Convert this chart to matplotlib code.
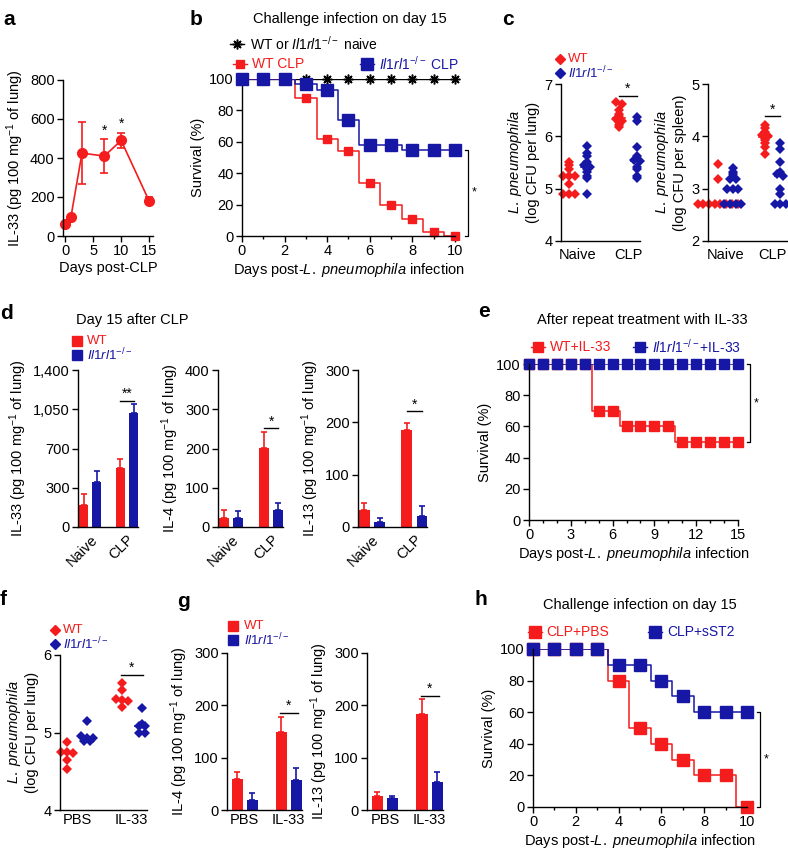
import numpy as np
import matplotlib
matplotlib.use("Agg")
from matplotlib import pyplot as plt
from matplotlib.lines import Line2D

plt.rcParams['font.family'] = ['Liberation Sans', 'DejaVu Sans']
plt.rcParams['mathtext.fontset'] = 'custom'
plt.rcParams['mathtext.rm'] = 'Liberation Sans'
plt.rcParams['mathtext.it'] = 'Liberation Sans:italic'
plt.rcParams['mathtext.bf'] = 'Liberation Sans:bold'

RED = '#f41c1c'
BLUE = '#1717a6'
KO = r'$\mathit{Il1rl1}^{-/-}$'
DAYS_LP = r'Days post-$\mathit{L.\ pneumophila}$ infection'

# ---- data ----
# a: IL-33 after CLP
a_days = [0, 1, 3, 7, 10, 15]
a_il33 = [60, 95, 425, 410, 490, 180]
a_err = [0, 0, 158, 85, 38, 18]
a_sig = [7, 10]

# b: survival, challenge on day 15
b_days = list(range(11))
b_wt_clp = [100, 100, 100, 88, 62, 54, 34, 20, 11, 2.5, 0]
b_ko_clp = [100, 100, 100, 97, 93, 74, 58, 58, 55, 55, 55]
b_naive = [100] * 11

# c: bacterial load, lung and spleen
c_groups = ['Naive', 'CLP']
c_lung_wt = [[5.5, 5.45, 5.38, 5.25, 5.25, 5.25, 5.08, 4.9, 4.9, 4.9],
             [6.65, 6.62, 6.5, 6.42, 6.38, 6.33, 6.3, 6.28, 6.22, 6.18]]
c_lung_ko = [[5.82, 5.68, 5.62, 5.5, 5.45, 5.42, 5.38, 5.32, 5.25, 5.2, 4.9],
             [6.36, 6.3, 5.8, 5.62, 5.55, 5.52, 5.42, 5.38, 5.25, 5.2]]
c_spl_wt = [[3.48, 3.18, 2.7, 2.7, 2.7, 2.7, 2.7, 2.7, 2.7, 2.7],
            [4.22, 4.15, 4.08, 4.02, 4.0, 3.97, 3.93, 3.88, 3.8, 3.66]]
c_spl_ko = [[3.4, 3.32, 3.28, 3.18, 3.18, 3.0, 3.0, 3.0, 2.7, 2.7, 2.7, 2.7],
            [3.88, 3.75, 3.5, 3.32, 3.28, 3.25, 3.0, 2.9, 2.7, 2.7, 2.7]]

# d: cytokines day 15 after CLP
d_groups = ['Naive', 'CLP']
d_il33_wt, d_il33_wt_err = [200, 530], [90, 73]
d_il33_ko, d_il33_ko_err = [400, 1013], [95, 83]
d_il4_wt, d_il4_wt_err = [24, 202], [19, 41]
d_il4_ko, d_il4_ko_err = [23, 44], [17, 17]
d_il13_wt, d_il13_wt_err = [33, 186], [13, 13]
d_il13_ko, d_il13_ko_err = [10, 21], [7, 19]

# e: survival after IL-33 treatment
e_days = list(range(16))
e_wt = [100, 100, 100, 100, 100, 70, 70, 60, 60, 60, 60, 50, 50, 50, 50, 50]
e_ko = [100] * 16

# f: bacterial load after PBS / IL-33
f_groups = ['PBS', 'IL-33']
f_wt = [[4.88, 4.75, 4.75, 4.74, 4.64, 4.53],
        [5.64, 5.55, 5.43, 5.42, 5.41, 5.33]]
f_ko = [[5.15, 4.95, 4.93, 4.93, 4.89, 4.89],
        [5.32, 5.11, 5.08, 5.08, 4.99, 4.99]]

# g: IL-4 / IL-13 after PBS / IL-33
g_groups = ['PBS', 'IL-33']
g_il4_wt, g_il4_wt_err = [60, 150], [13, 28]
g_il4_ko, g_il4_ko_err = [20, 57], [13, 24]
g_il13_wt, g_il13_wt_err = [26, 183], [9, 29]
g_il13_ko, g_il13_ko_err = [22, 53], [5, 20]

# h: survival CLP+PBS vs CLP+sST2
h_days = list(range(11))
h_pbs = [100, 100, 100, 100, 80, 50, 40, 30, 20, 20, 0]
h_sst2 = [100, 100, 100, 100, 90, 90, 80, 70, 60, 60, 60]

W, H = 788, 850
fig = plt.figure(figsize=(W / 100, H / 100), dpi=100)


def add_ax(l, t, r, b):
    ax = fig.add_axes([l / W, 1 - b / H, (r - l) / W, (b - t) / H])
    for s in ['top', 'right']:
        ax.spines[s].set_visible(False)
    for s in ['left', 'bottom']:
        ax.spines[s].set_linewidth(1)
    ax.tick_params(direction='out', length=4, width=1, labelsize=10.5, pad=2)
    ax.tick_params(which='minor', direction='out', length=2.5, width=1)
    return ax


def ftext(x, y, s, color='k', size=10, **kw):
    fig.text(x / W, 1 - y / H, s, color=color, fontsize=size, **kw)


def fmarker(x, y, marker, color, ms, half=7, mew=1):
    fig.add_artist(Line2D([(x - half) / W, x / W, (x + half) / W], [1 - y / H] * 3,
                          color=color, marker=marker, markevery=[1], ms=ms, lw=1,
                          mew=mew, transform=fig.transFigure))


def hbracket(ax, x1, x2, y, label='*'):
    ax.plot([x1, x2], [y, y], color='k', lw=1, clip_on=False)
    ax.text((x1 + x2) / 2, y, label, ha='center', va='bottom', fontsize=10)


def vbracket(ax, x, y1, y2, dx, label='*'):
    ax.plot([x - dx, x, x, x - dx], [y1, y1, y2, y2], color='k', lw=0.9, clip_on=False)
    ax.text(x + dx * 1.3, (y1 + y2) / 2, label, ha='left', va='center', fontsize=9)


def swarm(vals, center, step, tol):
    vals = np.sort(np.asarray(vals, dtype=float))[::-1]
    xs = np.empty(len(vals))
    i = 0
    while i < len(vals):
        j = i
        while j + 1 < len(vals) and vals[i] - vals[j + 1] < tol:
            j += 1
        n = j - i + 1
        xs[i:j + 1] = center + (np.arange(n) - (n - 1) / 2) * step
        i = j + 1
    return xs, vals


def scatter_panel(ax, wt, ko, off, step, tol):
    for k in range(len(wt)):
        for vals, col, sgn in [(wt[k], RED, -1), (ko[k], BLUE, 1)]:
            c = k + sgn * off
            xs, ys = swarm(vals, c, step, tol)
            ax.plot(xs, ys, 'D', color=col, ms=4.6, mew=0, clip_on=False)
            med = np.median(vals)
            ax.plot([c - 0.12, c + 0.12], [med, med], color=col, lw=1.2)


def bar_panel(ax, wt, wt_err, ko, ko_err, off, width):
    x = np.arange(len(wt))
    ax.bar(x - off, wt, width, color=RED, yerr=[np.zeros(len(wt)), wt_err],
           error_kw=dict(ecolor=RED, capsize=2.5, elinewidth=1.2, capthick=1.2))
    ax.bar(x + off, ko, width, color=BLUE, yerr=[np.zeros(len(ko)), ko_err],
           error_kw=dict(ecolor=BLUE, capsize=2.5, elinewidth=1.2, capthick=1.2))


def panel_letter(x, y, s):
    ftext(x, y, s, size=15, weight='bold', va='top')


def small_legend(x, y1, y2, marker, ms, tx):
    fmarker(x, y1, marker, RED, ms, half=0)
    ftext(tx, y1, 'WT', color=RED, size=9.5, va='center')
    fmarker(x, y2, marker, BLUE, ms, half=0)
    ftext(tx, y2, KO, color=BLUE, size=9.5, va='center')


# ---- a ----
ax = add_ax(63, 80, 153, 236)
ax.errorbar(a_days, a_il33, yerr=a_err, color=RED, marker='o', ms=7, lw=1.2,
            capsize=3, capthick=1.2, clip_on=False)
for d in a_sig:
    i = a_days.index(d)
    ax.text(d, a_il33[i] + a_err[i] + 10, '*', ha='center', va='bottom', fontsize=10)
ax.set_xlim(-0.4, 15.7)
ax.set_ylim(0, 800)
ax.set_xticks([0, 5, 10, 15])
ax.set_yticks([0, 200, 400, 600, 800])
ax.set_xlabel('Days post-CLP', fontsize=10.5, labelpad=2)
ax.set_ylabel(r'IL-33 (pg 100 mg$^{-1}$ of lung)', fontsize=10.5, labelpad=3)
panel_letter(3, 10, 'a')

# ---- b ----
ax = add_ax(242, 79, 455, 236)
ax.step(b_days, b_naive, where='mid', color='k', lw=1)
ax.plot(b_days, b_naive, ls='none', marker=(8, 2, 0), color='k', ms=7, mew=1.1, clip_on=False)
ax.step(b_days, b_wt_clp, where='mid', color=RED, lw=1.1)
ax.plot(b_days, b_wt_clp, 's', color=RED, ms=6, clip_on=False)
ax.step(b_days, b_ko_clp, where='mid', color=BLUE, lw=1.1)
ax.plot(b_days, b_ko_clp, 's', color=BLUE, ms=8.5, clip_on=False, zorder=3)
ax.set_xlim(0, 10)
ax.set_ylim(0, 100)
ax.set_xticks(range(0, 11, 2))
ax.set_xticks(range(0, 11), minor=True)
ax.set_yticks(range(0, 101, 20))
ax.set_xlabel(DAYS_LP, fontsize=10.5, labelpad=2)
ax.set_ylabel('Survival (%)', fontsize=10.5, labelpad=3)
vbracket(ax, 10.6, 55, 0, 0.15)
panel_letter(190, 10, 'b')
ftext(350, 19, 'Challenge infection on day 15', size=10.5, ha='center', va='center')
fmarker(237, 44, (8, 2, 0), 'k', 7, mew=1.1)
ftext(250, 44, 'WT or ' + KO + ' naive', size=10, va='center')
fmarker(240, 64, 's', RED, 6)
ftext(252, 64, 'WT CLP', color=RED, size=10, va='center')
fmarker(367, 64, 's', BLUE, 8.5)
ftext(379, 64, KO + ' CLP', color=BLUE, size=10, va='center')

# ---- c ----
ax = add_ax(561, 84, 640, 241)
scatter_panel(ax, c_lung_wt, c_lung_ko, 0.18, 0.12, 0.04)
hbracket(ax, 1 - 0.18, 1 + 0.18, 6.78)
ax.set_xlim(-0.34, 1.24)
ax.set_ylim(4, 7)
ax.set_yticks([4, 5, 6, 7])
ax.set_xticks([0, 1])
ax.set_xticklabels(c_groups)
ax.tick_params(axis='x', length=0, pad=5)
ax.set_ylabel(r'$\mathit{L.\ pneumophila}$' + '\n(log CFU per lung)', fontsize=10.5, labelpad=3)
ax = add_ax(708, 84, 787, 241)
scatter_panel(ax, c_spl_wt, c_spl_ko, 0.16, 0.12, 0.04)
hbracket(ax, 1 - 0.16, 1 + 0.16, 4.38)
ax.set_xlim(-0.36, 1.3)
ax.set_ylim(2, 5)
ax.set_yticks([2, 3, 4, 5])
ax.set_xticks([0, 1])
ax.set_xticklabels(c_groups)
ax.tick_params(axis='x', length=0, pad=5)
ax.set_ylabel(r'$\mathit{L.\ pneumophila}$' + '\n(log CFU per spleen)', fontsize=10.5, labelpad=3)
panel_letter(502, 10, 'c')
small_legend(560, 59, 73, 'D', 4.6, 568)

# ---- d ----
d_specs = [
    ((78, 370, 138, 527), d_il33_wt, d_il33_wt_err, d_il33_ko, d_il33_ko_err,
     [0, 350, 700, 1050, 1400], ['0', '300', '700', '1,050', '1,400'], 1126, '**',
     r'IL-33 (pg 100 mg$^{-1}$ of lung)'),
    ((218, 370, 283, 527), d_il4_wt, d_il4_wt_err, d_il4_ko, d_il4_ko_err,
     [0, 100, 200, 300, 400], None, 251, '*', r'IL-4 (pg 100 mg$^{-1}$ of lung)'),
    ((358, 370, 427, 527), d_il13_wt, d_il13_wt_err, d_il13_ko, d_il13_ko_err,
     [0, 100, 200, 300], None, 221, '*', r'IL-13 (pg 100 mg$^{-1}$ of lung)'),
]
for box, wt, wte, ko, koe, yt, ytl, sig_y, sig, ylab in d_specs:
    ax = add_ax(*box)
    bar_panel(ax, wt, wte, ko, koe, 0.18, 0.25)
    hbracket(ax, 1 - 0.18, 1 + 0.18, sig_y, sig)
    ax.set_xlim(-0.33, 1.3)
    ax.set_ylim(0, yt[-1])
    ax.set_yticks(yt)
    if ytl:
        ax.set_yticklabels(ytl)
    ax.set_xticks([0, 1])
    ax.set_xticklabels(d_groups, rotation=45, ha='right', rotation_mode='anchor')
    ax.tick_params(axis='x', length=0, pad=4)
    ax.set_ylabel(ylab, fontsize=10.5, labelpad=3)
panel_letter(0, 304, 'd')
ftext(76, 320, 'Day 15 after CLP', size=10.5, va='center')
small_legend(77, 341, 355, 's', 7.5, 87)

# ---- e ----
ax = add_ax(529, 364, 738, 520)
ax.step(e_days, e_wt, where='mid', color=RED, lw=1.1)
ax.plot(e_days, e_wt, 's', color=RED, ms=6.5, clip_on=False)
ax.step(e_days, e_ko, where='mid', color=BLUE, lw=1.1)
ax.plot(e_days, e_ko, 's', color=BLUE, ms=6.5, clip_on=False)
ax.set_xlim(0, 15)
ax.set_ylim(0, 100)
ax.set_xticks(range(0, 16, 3))
ax.set_xticks(range(0, 16), minor=True)
ax.set_yticks(range(0, 101, 20))
ax.set_xlabel(DAYS_LP, fontsize=10.5, labelpad=2)
ax.set_ylabel('Survival (%)', fontsize=10.5, labelpad=3)
vbracket(ax, 15.85, 100, 50, 0.2)
panel_letter(478, 302, 'e')
ftext(642, 320, 'After repeat treatment with IL-33', size=10.5, ha='center', va='center')
fmarker(538, 347, 's', RED, 6.5)
ftext(550, 347, 'WT+IL-33', color=RED, size=10, va='center')
fmarker(640, 347, 's', BLUE, 6.5)
ftext(652, 347, KO + '+IL-33', color=BLUE, size=10, va='center')

# ---- f ----
ax = add_ax(60, 655, 147, 810)
scatter_panel(ax, f_wt, f_ko, 0.18, 0.11, 0.03)
hbracket(ax, 1 - 0.2, 1 + 0.2, 5.74)
ax.set_xlim(-0.31, 1.28)
ax.set_ylim(4, 6)
ax.set_yticks([4, 5, 6])
ax.set_xticks([0, 1])
ax.set_xticklabels(f_groups)
ax.tick_params(axis='x', length=0)
ax.set_ylabel(r'$\mathit{L.\ pneumophila}$' + '\n(log CFU per lung)', fontsize=10.5, labelpad=3)
panel_letter(0, 590, 'f')
small_legend(55, 630, 644, 'D', 4.6, 63)

# ---- g ----
g_specs = [
    ((227, 653, 302, 810), g_il4_wt, g_il4_wt_err, g_il4_ko, g_il4_ko_err, 186,
     r'IL-4 (pg 100 mg$^{-1}$ of lung)'),
    ((367, 653, 443, 810), g_il13_wt, g_il13_wt_err, g_il13_ko, g_il13_ko_err, 218,
     r'IL-13 (pg 100 mg$^{-1}$ of lung)'),
]
for box, wt, wte, ko, koe, sig_y, ylab in g_specs:
    ax = add_ax(*box)
    bar_panel(ax, wt, wte, ko, koe, 0.17, 0.25)
    hbracket(ax, 1 - 0.2, 1 + 0.2, sig_y)
    ax.set_xlim(-0.4, 1.3)
    ax.set_ylim(0, 300)
    ax.set_yticks([0, 100, 200, 300])
    ax.set_xticks([0, 1])
    ax.set_xticklabels(g_groups)
    ax.tick_params(axis='x', length=0)
    ax.set_ylabel(ylab, fontsize=10.5, labelpad=3)
panel_letter(177, 592, 'g')
small_legend(233, 626, 640, 's', 7.5, 244)

# ---- h ----
ax = add_ax(533, 649, 747, 807)
ax.step(h_days, h_pbs, where='mid', color=RED, lw=1.1)
ax.plot(h_days, h_pbs, 's', color=RED, ms=8, clip_on=False)
ax.step(h_days, h_sst2, where='mid', color=BLUE, lw=1.1)
ax.plot(h_days, h_sst2, 's', color=BLUE, ms=8, clip_on=False)
ax.set_xlim(0, 10)
ax.set_ylim(0, 100)
ax.set_xticks(range(0, 11, 2))
ax.set_xticks(range(0, 11), minor=True)
ax.set_yticks(range(0, 101, 20))
ax.set_xlabel(DAYS_LP, fontsize=10.5, labelpad=2)
ax.set_ylabel('Survival (%)', fontsize=10.5, labelpad=3)
vbracket(ax, 10.6, 60, 0, 0.15)
panel_letter(475, 590, 'h')
ftext(640, 605, 'Challenge infection on day 15', size=10.5, ha='center', va='center')
fmarker(535, 632, 's', RED, 8)
ftext(546, 632, 'CLP+PBS', color=RED, size=10, va='center')
fmarker(655, 632, 's', BLUE, 8)
ftext(667, 632, 'CLP+sST2', color=BLUE, size=10, va='center')

fig.savefig('out.png', dpi=100)
